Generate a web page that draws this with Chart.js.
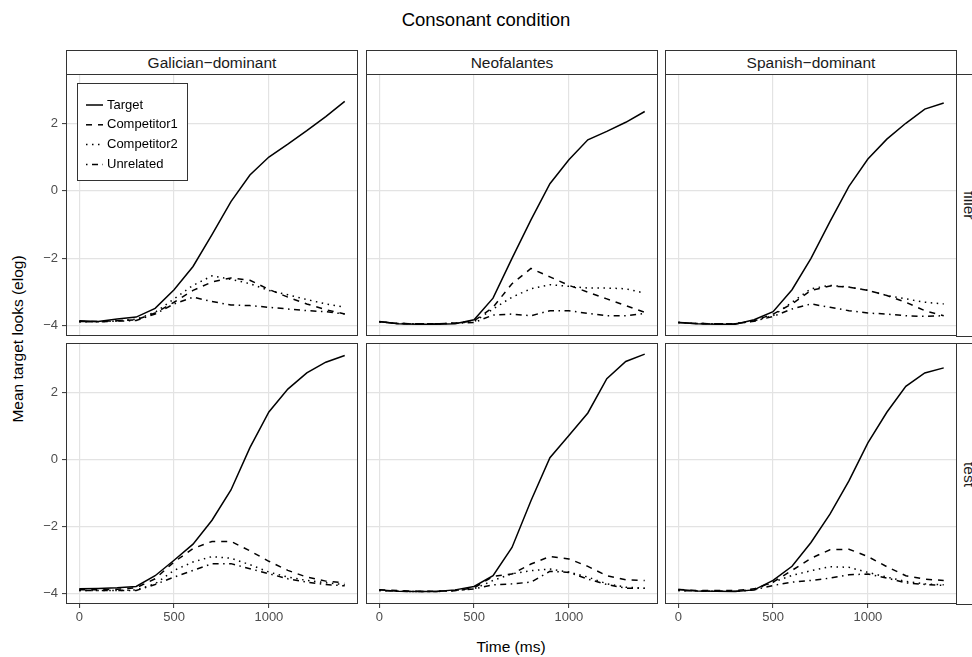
<!DOCTYPE html>
<html>
<head>
<meta charset="utf-8">
<script src="https://cdn.jsdelivr.net/npm/chart.js@4.4.1/dist/chart.umd.min.js"></script>
<style>
html, body { margin: 0; padding: 0; background: #fff; overflow: hidden; }
body { width: 972px; height: 657px; position: relative; font-family: "Liberation Sans", Arial, sans-serif; }
canvas { position: absolute; }
.strip { position: absolute; box-sizing: border-box; border: 1px solid #333; background: #fff;
         color: #1a1a1a; font-size: 15.5px; display: flex; align-items: center; justify-content: center; }
.rstrip { writing-mode: vertical-rl; justify-content: center; }
.txt { position: absolute; color: #000; white-space: nowrap; transform: translate(-50%, -50%); }
</style>
</head>
<body>
<div class="txt" style="left:486px; top:20px; font-size:18.5px;">Consonant condition</div>
<div class="txt" style="left:18px; top:339px; font-size:15.5px; transform:translate(-50%,-50%) rotate(-90deg);">Mean target looks (elog)</div>
<div class="txt" style="left:511px; top:647px; font-size:15.5px;">Time (ms)</div>

<script>
// time axis (ms) and tick values
const timeMs = [0, 100, 200, 300, 400, 500, 600, 700, 800, 900, 1000, 1100, 1200, 1300, 1400];
const xTicks = [0, 500, 1000];
const yTicks = [-4, -2, 0, 2];

const groups = ['Galician\u2212dominant', 'Neofalantes', 'Spanish\u2212dominant'];
const conditions = ['filler', 'test'];
const seriesNames = ['Target', 'Competitor1', 'Competitor2', 'Unrelated'];

// Galician-dominant, filler
const gfTarget = [-3.85, -3.87, -3.80, -3.74, -3.48, -2.93, -2.24, -1.30, -0.32, 0.47, 1.00, 1.38, 1.78, 2.20, 2.65];
const gfComp1  = [-3.87, -3.87, -3.85, -3.82, -3.62, -3.30, -2.95, -2.70, -2.58, -2.65, -2.92, -3.15, -3.35, -3.52, -3.65];
const gfComp2  = [-3.88, -3.88, -3.85, -3.80, -3.60, -3.20, -2.80, -2.52, -2.62, -2.75, -2.95, -3.08, -3.22, -3.35, -3.45];
const gfUnrel  = [-3.88, -3.88, -3.86, -3.84, -3.65, -3.35, -3.15, -3.28, -3.38, -3.40, -3.45, -3.50, -3.55, -3.58, -3.65];

// Neofalantes, filler
const nfTarget = [-3.87, -3.94, -3.95, -3.95, -3.94, -3.82, -3.18, -2.00, -0.86, 0.21, 0.92, 1.51, 1.76, 2.03, 2.35];
const nfComp1  = [-3.88, -3.93, -3.94, -3.94, -3.92, -3.85, -3.45, -2.75, -2.30, -2.55, -2.80, -3.00, -3.20, -3.40, -3.60];
const nfComp2  = [-3.88, -3.93, -3.94, -3.94, -3.92, -3.88, -3.50, -3.15, -2.90, -2.78, -2.83, -2.88, -2.88, -2.90, -3.03];
const nfUnrel  = [-3.88, -3.93, -3.94, -3.94, -3.92, -3.90, -3.68, -3.65, -3.70, -3.55, -3.55, -3.63, -3.70, -3.70, -3.63];

// Spanish-dominant, filler
const sfTarget = [-3.90, -3.94, -3.95, -3.95, -3.82, -3.58, -2.93, -2.00, -0.91, 0.13, 0.94, 1.53, 2.00, 2.42, 2.60];
const sfComp1  = [-3.90, -3.93, -3.94, -3.94, -3.85, -3.65, -3.35, -2.95, -2.82, -2.85, -2.95, -3.10, -3.30, -3.55, -3.70];
const sfComp2  = [-3.90, -3.93, -3.94, -3.94, -3.85, -3.70, -3.30, -2.90, -2.80, -2.85, -2.95, -3.10, -3.20, -3.30, -3.35];
const sfUnrel  = [-3.90, -3.93, -3.94, -3.94, -3.86, -3.72, -3.50, -3.35, -3.45, -3.55, -3.62, -3.65, -3.70, -3.72, -3.70];

// Galician-dominant, test
const gtTarget = [-3.85, -3.84, -3.82, -3.78, -3.46, -3.00, -2.52, -1.81, -0.91, 0.35, 1.41, 2.09, 2.57, 2.89, 3.09];
const gtComp1  = [-3.88, -3.88, -3.86, -3.82, -3.55, -3.05, -2.65, -2.44, -2.44, -2.72, -3.03, -3.30, -3.50, -3.62, -3.67];
const gtComp2  = [-3.90, -3.90, -3.90, -3.88, -3.70, -3.30, -3.05, -2.89, -2.94, -3.13, -3.35, -3.50, -3.60, -3.67, -3.72];
const gtUnrel  = [-3.90, -3.90, -3.90, -3.90, -3.72, -3.50, -3.30, -3.10, -3.10, -3.25, -3.40, -3.55, -3.65, -3.72, -3.76];

// Neofalantes, test
const ntTarget = [-3.88, -3.92, -3.93, -3.93, -3.88, -3.78, -3.46, -2.62, -1.23, 0.05, 0.71, 1.38, 2.40, 2.91, 3.13];
const ntComp1  = [-3.88, -3.90, -3.92, -3.92, -3.90, -3.82, -3.48, -3.41, -3.11, -2.89, -2.96, -3.18, -3.46, -3.58, -3.60];
const ntComp2  = [-3.90, -3.92, -3.93, -3.93, -3.90, -3.85, -3.60, -3.40, -3.31, -3.26, -3.35, -3.50, -3.70, -3.80, -3.83];
const ntUnrel  = [-3.90, -3.92, -3.93, -3.93, -3.90, -3.85, -3.73, -3.70, -3.65, -3.33, -3.36, -3.56, -3.72, -3.83, -3.83];

// Spanish-dominant, test
const stTarget = [-3.87, -3.91, -3.92, -3.93, -3.88, -3.60, -3.18, -2.47, -1.63, -0.64, 0.49, 1.40, 2.17, 2.57, 2.72];
const stComp1  = [-3.87, -3.90, -3.90, -3.90, -3.85, -3.65, -3.30, -2.94, -2.69, -2.67, -2.89, -3.19, -3.46, -3.56, -3.60];
const stComp2  = [-3.90, -3.91, -3.92, -3.92, -3.88, -3.65, -3.45, -3.31, -3.19, -3.21, -3.36, -3.50, -3.63, -3.70, -3.73];
const stUnrel  = [-3.90, -3.91, -3.92, -3.92, -3.88, -3.75, -3.65, -3.60, -3.53, -3.43, -3.41, -3.53, -3.67, -3.72, -3.75];

const panelData = [
    [[gfTarget, gfComp1, gfComp2, gfUnrel], [nfTarget, nfComp1, nfComp2, nfUnrel], [sfTarget, sfComp1, sfComp2, sfUnrel]],
    [[gtTarget, gtComp1, gtComp2, gtUnrel], [ntTarget, ntComp1, ntComp2, ntUnrel], [stTarget, stComp1, stComp2, stUnrel]]
];

// layout (page pixels)
const colLeft = [66, 366, 665];
const panelW = 292;
const rowTop = [74, 343];
const panelH = [262, 261];
const dashes = [[], [6, 6], [1.5, 4.5], [1.5, 4.5, 6, 4.5]];
const tickFont = { family: 'Liberation Sans', size: 13 };

// panel border + legend drawn on top of lines
const panelBox = {
    id: 'panelBox',
    afterDatasetsDraw(chart, args, opts) {
        const { ctx, chartArea: a } = chart;
        ctx.save();
        ctx.strokeStyle = '#333';
        ctx.lineWidth = 1;
        ctx.strokeRect(Math.round(a.left) + 0.5, Math.round(a.top) + 0.5,
            Math.round(a.right - a.left) - 1, Math.round(a.bottom - a.top) - 1);
        if (opts.legend) {
            const lx = Math.round(a.left + 11) + 0.5, ly = Math.round(a.top + 9) + 0.5;
            ctx.fillStyle = '#fff';
            ctx.fillRect(lx, ly, 110, 97);
            ctx.strokeRect(lx, ly, 110, 97);
            chart.data.datasets.forEach((ds, i) => {
                const cy = a.top + 31 + i * 19.8;
                ctx.setLineDash(ds.borderDash);
                ctx.lineWidth = ds.borderWidth;
                ctx.strokeStyle = '#000';
                ctx.beginPath();
                ctx.moveTo(a.left + 20, cy);
                ctx.lineTo(a.left + 37, cy);
                ctx.stroke();
                ctx.setLineDash([]);
                ctx.fillStyle = '#000';
                ctx.font = '13px "Liberation Sans"';
                ctx.textBaseline = 'middle';
                ctx.fillText(ds.label, a.left + 41, cy);
            });
        }
        ctx.restore();
    }
};

function addStrip(left, top, w, h, text, cls) {
    const d = document.createElement('div');
    d.className = cls;
    d.style.left = left + 'px';
    d.style.top = top + 'px';
    d.style.width = w + 'px';
    d.style.height = h + 'px';
    d.textContent = text;
    document.body.appendChild(d);
}

groups.forEach((g, c) => addStrip(colLeft[c], 50, panelW, 25, g, 'strip'));
conditions.forEach((cond, r) => addStrip(colLeft[2] + panelW - 1, rowTop[r], 25, panelH[r] + 1, cond, 'strip rstrip'));

// generous padding so tick-label overflow never shrinks the panel
const pad = 12;
for (let r = 0; r < 2; r++) {
    for (let c = 0; c < 3; c++) {
        const lm = c === 0 ? 40 : 0;
        const bm = r === 1 ? 26 : 0;
        const canvas = document.createElement('canvas');
        canvas.width = panelW + lm + 2 * pad;
        canvas.height = panelH[r] + bm + 2 * pad;
        canvas.style.left = (colLeft[c] - lm - pad) + 'px';
        canvas.style.top = (rowTop[r] - pad) + 'px';
        document.body.appendChild(canvas);

        const datasets = seriesNames.map((name, k) => ({
            label: name,
            data: timeMs.map((t, i) => ({ x: t, y: panelData[r][c][k][i] })),
            borderColor: '#000',
            borderWidth: 1.5,
            borderDash: dashes[k],
            borderCapStyle: 'butt',
            pointRadius: 0,
            tension: 0,
            fill: false
        }));

        new Chart(canvas.getContext('2d'), {
            type: 'line',
            data: { datasets: datasets },
            options: {
                responsive: false,
                animation: false,
                devicePixelRatio: 1,
                layout: { padding: pad },
                plugins: {
                    legend: { display: false },
                    tooltip: { enabled: false },
                    panelBox: { legend: r === 0 && c === 0 }
                },
                scales: {
                    x: {
                        type: 'linear',
                        min: -70,
                        max: 1470,
                        afterBuildTicks: s => { s.ticks = xTicks.map(v => ({ value: v })); },
                        afterFit: s => { s.height = bm; },
                        border: { display: false },
                        grid: { color: '#e3e3e3', lineWidth: 1.2, drawTicks: r === 1, tickLength: 4, tickColor: '#333', tickWidth: 1 },
                        ticks: { display: r === 1, font: tickFont, color: '#4d4d4d', padding: 2, maxRotation: 0,
                                 callback: v => String(v) }
                    },
                    y: {
                        min: -4.3,
                        max: 3.46,
                        afterBuildTicks: s => { s.ticks = yTicks.map(v => ({ value: v })); },
                        afterFit: s => { s.width = lm; },
                        border: { display: false },
                        grid: { color: '#e3e3e3', lineWidth: 1.2, drawTicks: c === 0, tickLength: 4, tickColor: '#333', tickWidth: 1 },
                        ticks: {
                            display: c === 0, font: tickFont, color: '#4d4d4d', padding: 4,
                            callback: v => String(v).replace('-', '\u2212')
                        }
                    }
                }
            },
            plugins: [panelBox]
        });
    }
}
</script>
</body>
</html>
